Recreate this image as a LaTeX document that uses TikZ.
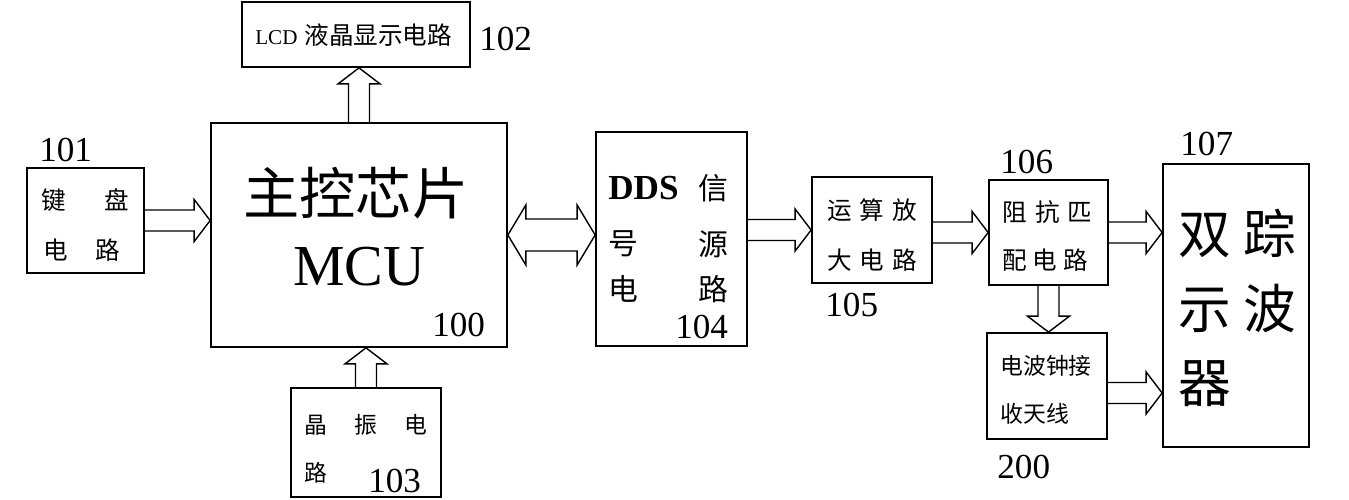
\documentclass[tikz,border=0pt]{standalone}
\usepackage{fontspec}
\setmainfont{Liberation Serif}
\newfontfamily\cjk{Noto Sans CJK SC}
\usetikzlibrary{calc}

% block arrow sizes
\newcommand{\shw}{0.21cm}
\newcommand{\hdw}{0.42cm}
\newcommand{\hdl}{0.32cm}
\newcommand{\bsw}{0.32cm}
\newcommand{\bhw}{0.60cm}
\newcommand{\bhl}{0.36cm}

\newcommand{\rblk}[2]{\draw[blk] let \p1=(#1), \p2=(#2) in
  (\x1,\y1+\shw) -- (\x2-\hdl,\y1+\shw) -- (\x2-\hdl,\y1+\hdw) -- (\x2,\y1)
  -- (\x2-\hdl,\y1-\hdw) -- (\x2-\hdl,\y1-\shw) -- (\x1,\y1-\shw);}
\newcommand{\ublk}[2]{\draw[blk] let \p1=(#1), \p2=(#2) in
  (\x1-\shw,\y1) -- (\x1-\shw,\y2-\hdl) -- (\x1-\hdw,\y2-\hdl) -- (\x1,\y2)
  -- (\x1+\hdw,\y2-\hdl) -- (\x1+\shw,\y2-\hdl) -- (\x1+\shw,\y1);}
\newcommand{\dblk}[2]{\draw[blk] let \p1=(#1), \p2=(#2) in
  (\x1-\shw,\y1) -- (\x1-\shw,\y2+\hdl) -- (\x1-\hdw,\y2+\hdl) -- (\x1,\y2)
  -- (\x1+\hdw,\y2+\hdl) -- (\x1+\shw,\y2+\hdl) -- (\x1+\shw,\y1);}
\newcommand{\lrblk}[2]{\draw[blk] let \p1=(#1), \p2=(#2) in
  (\x1,\y1) -- (\x1+\bhl,\y1+\bhw) -- (\x1+\bhl,\y1+\bsw) -- (\x2-\bhl,\y1+\bsw)
  -- (\x2-\bhl,\y1+\bhw) -- (\x2,\y1) -- (\x2-\bhl,\y1-\bhw) -- (\x2-\bhl,\y1-\bsw)
  -- (\x1+\bhl,\y1-\bsw) -- (\x1+\bhl,\y1-\bhw) -- cycle;}

\begin{document}
\begin{tikzpicture}
    [%%%%%%%%%%%%%%%%%%%%%%%%%%%%%%
        x=0.02cm, y=-0.02cm,
        box/.style={rectangle,draw=black,line width=1pt,inner sep=0},
        blk/.style={draw=black,line width=0.8pt,line join=miter},
        txt/.style={inner sep=0,anchor=west,font={\cjk\fontsize{14}{14}\selectfont}},
        num/.style={inner sep=0,anchor=west,font=\fontsize{20}{20}\selectfont},
    ]%%%%%%%%%%%%%%%%%%%%%%%%%%%%%%
\useasboundingbox (0,0) rectangle (1349,500);

\node[box, minimum width=4.56cm, minimum height=1.30cm] (lcd) at (356,34.5) {};
\node[box, minimum width=5.92cm, minimum height=4.48cm] (mcu) at (359,235) {};
\node[box, minimum width=2.34cm, minimum height=2.10cm] (kbd) at (85.5,220.5) {};
\node[box, minimum width=3.00cm, minimum height=2.18cm] (xtal) at (366,442.5) {};
\node[box, minimum width=3.02cm, minimum height=4.28cm] (dds) at (671.5,239) {};
\node[box, minimum width=2.40cm, minimum height=2.12cm] (amp) at (872,230) {};
\node[box, minimum width=2.38cm, minimum height=2.10cm] (match) at (1048.5,232.5) {};
\node[box, minimum width=2.92cm, minimum height=5.66cm] (osc) at (1236,305.5) {};
\node[box, minimum width=2.40cm, minimum height=2.12cm] (ant) at (1047,386) {};

% texts
\node[inner sep=0, anchor=west] (lcdt) at (255,35) {{\fontsize{12}{12}\selectfont LCD}\hspace{0.14cm}{\cjk\fontsize{14}{14}\selectfont 液晶显示电路}};
\node[num] (n102) at (479,39) {102};

\node[inner sep=0, anchor=west, font={\cjk\fontsize{32}{32}\selectfont}] (mcut1) at (243,193) {主控芯片};
\node[inner sep=0, anchor=west, font=\fontsize{33}{33}\selectfont] (mcut2) at (293,267) {MCU};
\node[num] (n100) at (432,325) {100};

\node[num] (n101) at (39,150) {101};
\node[txt] (kbdt1) at (41,200) {键\hspace{0.78cm}盘};
\node[txt] (kbdt2) at (43,250) {电\hspace{0.55cm}路};

\node[txt, font={\cjk\fontsize{13}{13}\selectfont}] (xtalt1) at (304,425) {晶\hspace{0.54cm}振\hspace{0.54cm}电};
\node[txt, font={\cjk\fontsize{13}{13}\selectfont}] (xtalt2) at (304,473) {路};
\node[num] (n103) at (368,481) {103};

\node[inner sep=0, anchor=west, font=\fontsize{20}{20}\selectfont\bfseries] (ddst1) at (608,188) {DDS};
\node[txt, font={\cjk\fontsize{17}{17}\selectfont}] (ddst2) at (698,188) {信};
\node[txt, font={\cjk\fontsize{17}{17}\selectfont}] (ddst3) at (608,244) {号};
\node[txt, font={\cjk\fontsize{17}{17}\selectfont}] (ddst4) at (698,244) {源};
\node[txt, font={\cjk\fontsize{17}{17}\selectfont}] (ddst5) at (608,289) {电};
\node[txt, font={\cjk\fontsize{17}{17}\selectfont}] (ddst6) at (698,289) {路};
\node[num] (n104) at (675,327) {104};

\node[txt] (ampt1) at (827,210) {运\hspace{0.16cm}算\hspace{0.16cm}放};
\node[txt] (ampt2) at (827,260) {大\hspace{0.16cm}电\hspace{0.16cm}路};
\node[num] (n105) at (825,305) {105};

\node[num] (n106) at (1000,162) {106};
\node[txt] (matcht1) at (1002,212) {阻\hspace{0.18cm}抗\hspace{0.14cm}匹};
\node[txt] (matcht2) at (1002,260) {配\hspace{0.12cm}电\hspace{0.12cm}路};

\node[num] (n107) at (1180,144) {107};
\node[txt, font={\cjk\fontsize{30}{30}\selectfont}] (osct1) at (1178,233) {双\hspace{0.24cm}踪};
\node[txt, font={\cjk\fontsize{30}{30}\selectfont}] (osct2) at (1178,308) {示\hspace{0.24cm}波};
\node[txt, font={\cjk\fontsize{30}{30}\selectfont}] (osct3) at (1178,384) {器};

\node[txt, font={\cjk\fontsize{13}{13}\selectfont}] (antt1) at (1000,366) {电波钟接};
\node[txt, font={\cjk\fontsize{13}{13}\selectfont}] (antt2) at (1000,414) {收天线};
\node[num] (n200) at (997,467) {200};

% arrows
\coordinate (antout) at (1107,393);
\rblk{kbd.east}{kbd.east -| mcu.west}
\ublk{mcu.north}{mcu.north |- lcd.south}
\ublk{xtal.north}{xtal.north |- mcu.south}
\lrblk{mcu.east}{mcu.east -| dds.west}
\rblk{dds.east |- amp.west}{amp.west}
\rblk{amp.east |- match.west}{match.west}
\rblk{match.east}{match.east -| osc.west}
\dblk{match.south}{match.south |- ant.north}
\rblk{antout}{antout -| osc.west}
\end{tikzpicture}
\end{document}
